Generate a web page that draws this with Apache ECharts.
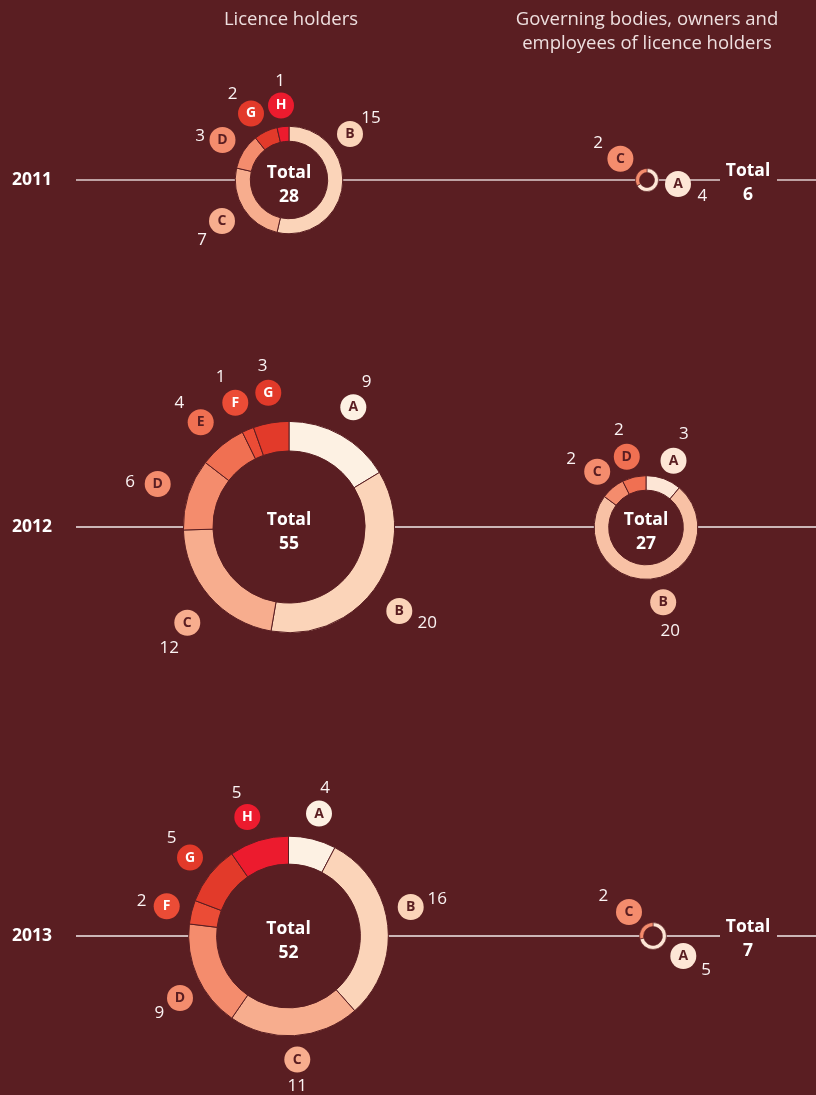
<!DOCTYPE html>
<html><head><meta charset="utf-8">
<script src="https://cdn.jsdelivr.net/npm/echarts@6/dist/echarts.min.js"></script>
<style>html,body{margin:0;padding:0;background:#5a1e22}#chart{width:816px;height:1095px}</style>
</head><body><div id="chart"></div>
<script>
// ---------- data ----------
const categories = ['A','B','C','D','E','F','G','H'];
const years = ['2011','2012','2013'];
const groupTitles = ['Licence holders', 'Governing bodies, owners and\nemployees of licence holders'];
const licence2011 = [0,15,7,3,0,0,2,1];
const licence2012 = [9,20,12,6,4,1,3,0];
const licence2013 = [4,16,11,9,0,2,5,5];
const governing2011 = [4,0,2,0,0,0,0,0];
const governing2012 = [3,20,2,2,0,0,0,0];
const governing2013 = [5,0,2,0,0,0,0,0];

// ---------- styles / layout ----------
const BG = '#5a1e22';
const FONT = "'Open Sans', 'Noto Sans', sans-serif";
const licenceColors = ['#fdf1e3','#fbd4b9','#f7ad8e','#f48c6d','#f07052','#eb4c36','#e23a2a','#ec1b2e'];
const governingColors = ['#fde6d6','#f8c1a5','#f48c6d','#f07052','#eb4c36','#e23a2a','#ec1b2e','#ec1b2e'];
const darkLetter = [true,true,true,true,true,false,false,false];
const RADIUS_PER_UNIT = 1.92;
const RING_RATIO = 0.28;
const MIN_RING = 4;
const LINE_START = 76;

// badge offset / number offset relative to ring centre
const rings = [
  { year:0, group:0, values:licence2011, center:[289,180], place:{
      H:[[-8,-74.5],[-9,-99]], G:[[-38,-66.5],[-56.5,-85.5]], D:[[-66.5,-40],[-89,-44]],
      B:[[61,-46],[82,-62]], C:[[-67,41],[-87,60]] } },
  { year:0, group:1, values:governing2011, center:[647,180], totalX:748, place:{
      C:[[-26.6,-21.3],[-49,-37]], A:[[31,4],[55.4,15.7]] } },
  { year:1, group:0, values:licence2012, center:[289,527], place:{
      A:[[64.3,-119.7],[77.7,-144.7]], B:[[110.3,84],[138.3,95.7]], C:[[-101.7,95.7],[-119.7,120.7]],
      D:[[-131.3,-43],[-159,-45]], E:[[-88.3,-104.7],[-109.7,-124.3]], F:[[-53.7,-124.3],[-68.3,-150.3]],
      G:[[-20.7,-134.3],[-26.3,-161.3]] } },
  { year:1, group:1, values:governing2012, center:[646,527.5], place:{
      A:[[27.5,-66.8],[37.8,-93.5]], B:[[17.2,74.8],[24.2,103.2]], C:[[-48.8,-55.8],[-74.8,-68.2]],
      D:[[-19.2,-70.8],[-27.2,-97.5]] } },
  { year:2, group:0, values:licence2013, center:[288.5,936], place:{
      A:[[30.5,-122.4],[36.5,-147.4]], B:[[122.2,-29],[148.8,-36.7]], C:[[8.8,123.6],[8.8,150.3]],
      D:[[-108.5,62],[-129.2,77]], F:[[-121.8,-29.7],[-146.8,-34.7]], G:[[-98.5,-78.4],[-116.8,-97.4]],
      H:[[-41.2,-119],[-51.8,-142.4]] } },
  { year:2, group:1, values:governing2013, center:[653,936], totalX:748, place:{
      C:[[-24,-24],[-49.7,-40]], A:[[30.3,20],[53,34.3]] } }
];

const series = [];
const graphics = [];

rings.forEach(ring => {
  const total = ring.values.reduce((a,b)=>a+b,0);
  const r = total * RADIUS_PER_UNIT;
  const inner = r - Math.max(r * RING_RATIO, MIN_RING);
  ring.total = total; ring.r = r;
  const small = r < 20;
  const palette = ring.group === 0 ? licenceColors : governingColors;
  const data = [];
  categories.forEach((c,i) => {
    if (ring.values[i] > 0) {
      data.push({
        name: c, value: ring.values[i],
        itemStyle: { color: palette[i] },
        label: { rich: { b: {
          width: 26, height: 26, lineHeight: 26, borderRadius: 13, align: 'center',
          backgroundColor: palette[i], color: darkLetter[i] ? BG : '#ffffff',
          fontFamily: FONT, fontWeight: 'bold', fontSize: 14
        } } }
      });
    }
  });
  const cx = ring.center[0], cy = ring.center[1];
  series.push({
    type: 'pie', silent: true, animation: false, z: 3,
    center: ring.center, radius: [inner, r],
    startAngle: 90, clockwise: true, avoidLabelOverlap: false,
    itemStyle: { borderColor: BG, borderWidth: small ? 0.6 : 1 },
    emphasis: { disabled: true },
    labelLine: { show: false },
    label: { show: true, position: 'outside', formatter: p => '{b|' + p.name + '}' },
    labelLayout: p => {
      const o = ring.place[data[p.dataIndex].name][0];
      return { x: cx + o[0], y: cy + o[1], align: 'center', verticalAlign: 'middle' };
    },
    data: data
  });
  series.push({
    type: 'pie', silent: true, animation: false, z: 3,
    center: ring.center, radius: [inner, r],
    startAngle: 90, clockwise: true, avoidLabelOverlap: false,
    itemStyle: { color: 'rgba(0,0,0,0)', borderWidth: 0 },
    emphasis: { disabled: true },
    labelLine: { show: false },
    label: { show: true, position: 'outside', formatter: '{c}', color: '#fbf4f4',
      fontFamily: FONT, fontSize: 17 },
    labelLayout: p => {
      const o = ring.place[data[p.dataIndex].name][1];
      return { x: cx + o[0], y: cy + o[1], align: 'center', verticalAlign: 'middle' };
    },
    data: data.map(d => ({ name: d.name, value: d.value }))
  });
  // total text
  const tx = ring.totalX != null ? ring.totalX : cx;
  const ty = ring.totalX != null ? cy + 3 : cy + 5;
  graphics.push({
    type: 'text', z: 10,
    style: { text: 'Total\n' + total, x: tx, y: ty, textAlign: 'center', textVerticalAlign: 'middle',
      align: 'center', verticalAlign: 'middle', lineHeight: 24,
      fill: '#ffffff', font: 'bold 17.5px ' + FONT }
  });
});

// horizontal lines per year
years.forEach((y, yi) => {
  const lic = rings.find(r => r.year === yi && r.group === 0);
  const gov = rings.find(r => r.year === yi && r.group === 1);
  const cy = lic.center[1];
  const segs = [[LINE_START, lic.center[0] - lic.r], [lic.center[0] + lic.r, gov.center[0] - gov.r]];
  if (gov.totalX != null) {
    segs.push([gov.center[0] + gov.r, gov.totalX - 28]);
    segs.push([gov.totalX + 29, 816]);
  } else {
    segs.push([gov.center[0] + gov.r, 816]);
  }
  const stroke = yi === 0 ? '#bea2a3' : '#f3eaea';
  const lw = yi === 0 ? 2 : 1.5;
  segs.forEach(s => graphics.push({
    type: 'line', z: 0, silent: true,
    shape: { x1: s[0], y1: cy, x2: s[1], y2: cy },
    style: { stroke: stroke, lineWidth: lw }
  }));
  graphics.push({
    type: 'text', z: 10,
    style: { text: y, x: 12, y: cy, textAlign: 'left', textVerticalAlign: 'middle',
      align: 'left', verticalAlign: 'middle', fill: '#ffffff', font: 'bold 17.5px ' + FONT }
  });
});

// headers
graphics.push({
  type: 'text', z: 10,
  style: { text: groupTitles[0], x: 291, y: 20, textAlign: 'center', textVerticalAlign: 'middle',
    align: 'center', verticalAlign: 'middle', fill: '#eedfdf', font: '18.5px ' + FONT }
});
graphics.push({
  type: 'text', z: 10,
  style: { text: groupTitles[1], x: 647, y: 32, textAlign: 'center', textVerticalAlign: 'middle',
    align: 'center', verticalAlign: 'middle', lineHeight: 24, fill: '#eedfdf', font: '18.5px ' + FONT }
});

const chart = echarts.init(document.getElementById('chart'), null, { renderer: 'canvas' });
chart.setOption({
  backgroundColor: BG,
  animation: false,
  graphic: { elements: graphics },
  series: series
});
</script></body></html>
